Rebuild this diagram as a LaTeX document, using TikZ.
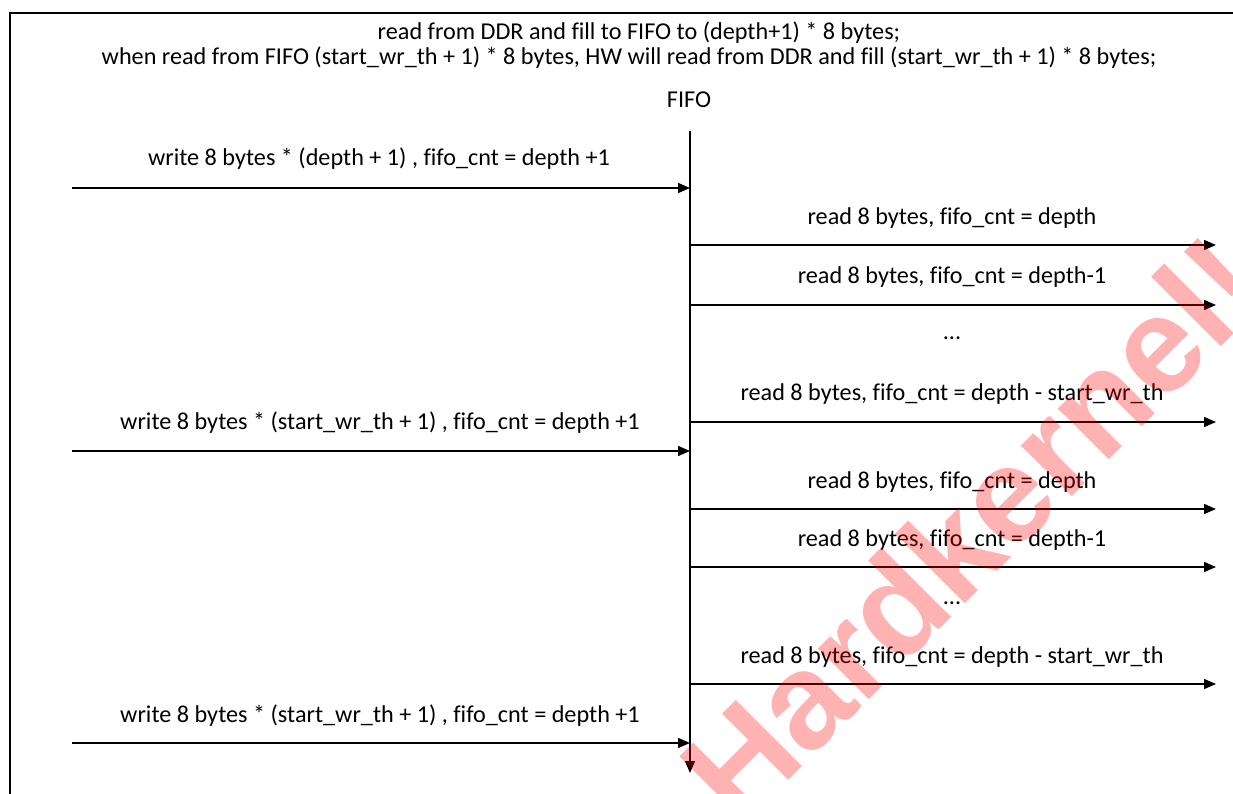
\documentclass[tikz,border=0pt]{standalone}
\usepackage{fontspec}
\setmainfont{Carlito}[Ligatures={NoCommon}]
\newfontfamily\wmfont{Liberation Sans}[BoldFont=* Bold]
\usetikzlibrary{arrows.meta}
\begin{document}
\begin{tikzpicture}[x=1pt,y=-1pt,
  lbl/.style={anchor=base, inner sep=0pt, font=\fontsize{24.2}{28}\selectfont},
  arr/.style={line width=1.4pt, -{Triangle[length=12pt,width=10pt]}},
  frame/.style={line width=2pt}]
\useasboundingbox (0,0) rectangle (1233,794);
\clip (0,0) rectangle (1233,794);
\fill[white] (0,0) rectangle (1233,794);
\draw[frame] (10,810) -- (10,13) -- (1250,13);
% titles
\node[lbl] (t1) at (639,40) {read from DDR and fill to FIFO to (depth+1) * 8 bytes;};
\node[lbl] (t2) at (629,65) {when read from FIFO (start\_wr\_th + 1) * 8 bytes, HW will read from DDR and fill (start\_wr\_th + 1) * 8 bytes;};
\node[lbl] (fifo) at (689,108) {FIFO};
% vertical axis
\coordinate (vtop) at (690,131);
\coordinate (vbot) at (690,773);
\draw[arr] (vtop) -- (vbot);
% write arrows
\coordinate (w1s) at (72,188);  \coordinate (w1e) at (690,188);
\coordinate (w2s) at (72,451);  \coordinate (w2e) at (690,451);
\coordinate (w3s) at (72,743);  \coordinate (w3e) at (690,743);
\draw[arr] (w1s) -- (w1e);
\draw[arr] (w2s) -- (w2e);
\draw[arr] (w3s) -- (w3e);
\node[lbl] (wl1) at (379,166) {write 8 bytes * (depth + 1) , fifo\_cnt = depth +1};
\node[lbl] (wl2) at (380,429) {write 8 bytes * (start\_wr\_th + 1) , fifo\_cnt = depth +1};
\node[lbl] (wl3) at (380,722) {write 8 bytes * (start\_wr\_th + 1) , fifo\_cnt = depth +1};
% read arrows
\foreach \n/\y in {1/245,2/305,3/422,4/509,5/567,6/684}{
  \coordinate (r\n s) at (690,\y);
  \coordinate (r\n e) at (1216,\y);
  \draw[arr] (r\n s) -- (r\n e);
}
\node[lbl] (rl1) at (952,225) {read 8 bytes, fifo\_cnt = depth};
\node[lbl] (rl2) at (952,283) {read 8 bytes, fifo\_cnt = depth-1};
\node[lbl] (rd1) at (952,339) {...};
\node[lbl] (rl3) at (952,400) {read 8 bytes, fifo\_cnt = depth - start\_wr\_th};
\node[lbl] (rl4) at (952,488) {read 8 bytes, fifo\_cnt = depth};
\node[lbl] (rl5) at (952,546) {read 8 bytes, fifo\_cnt = depth-1};
\node[lbl] (rd2) at (952,604) {...};
\node[lbl] (rl6) at (952,663) {read 8 bytes, fifo\_cnt = depth - start\_wr\_th};
% watermark
\node[rotate=45, text=red, text opacity=0.3, inner sep=0pt,
      font=\wmfont\bfseries\fontsize{136}{136}\selectfont] (wm) at (972,528) {Hardkernel!};
\end{tikzpicture}
\end{document}
